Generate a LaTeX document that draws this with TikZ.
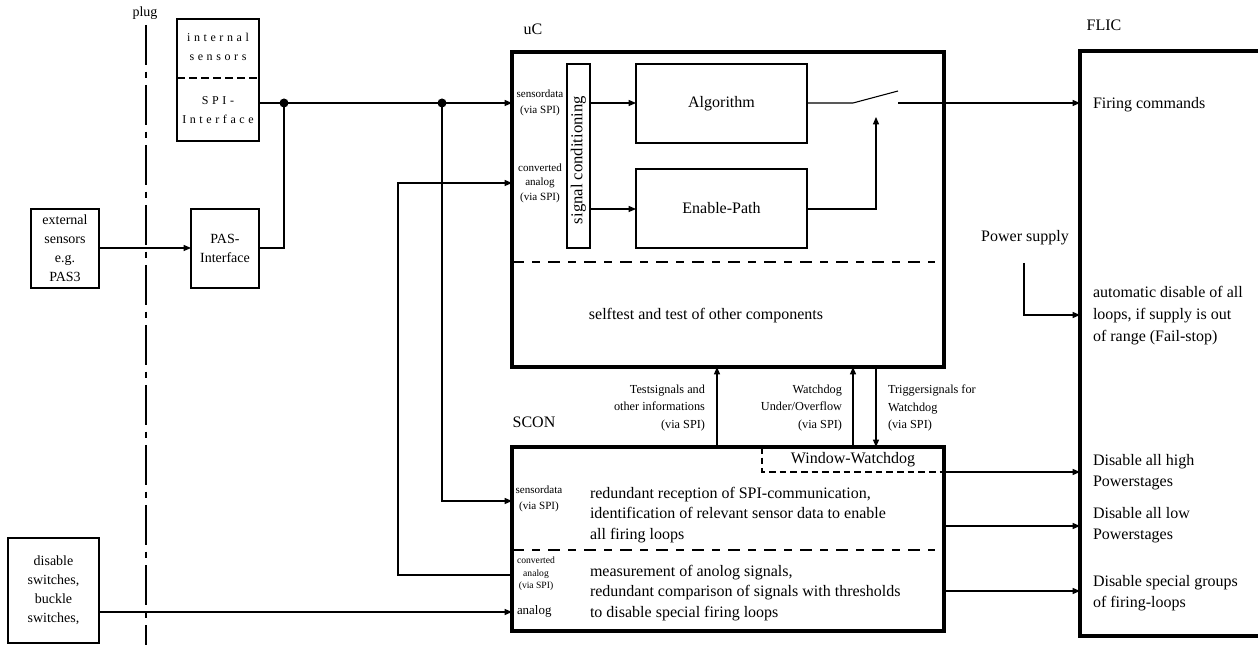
\documentclass[tikz,border=0pt]{standalone}
\usepackage{fontspec}
\setmainfont{Liberation Serif}
\usetikzlibrary{arrows.meta,fit}
\begin{document}
\begin{tikzpicture}[x=0.75pt,y=-0.75pt,
  every node/.style={inner sep=0pt,outer sep=0pt},
  ln/.style={line width=0.8pt},
  arr/.style={line width=0.8pt,-{Triangle[length=5.5pt,width=4.5pt]}},
  box/.style={draw,line width=0.8pt},
  heavy/.style={draw,line width=2.6pt},
  big/.style={font=\fontsize{12}{15.75}\selectfont},
  mid/.style={font=\fontsize{9.2}{13}\selectfont},
  ext/.style={font=\fontsize{10.5}{14.25}\selectfont,align=center},
  small/.style={font=\fontsize{8.3}{12}\selectfont,align=center},
  tiny/.style={font=\fontsize{7.2}{9.5}\selectfont,align=center},
  spaced/.style={font=\fontsize{9}{14.5}\selectfont\addfontfeature{LetterSpace=30},align=center},
  dashln/.style={line width=0.8pt,dash pattern=on 9pt off 6pt on 6pt off 6pt},
  plugln/.style={line width=0.8pt,dash pattern=on 30pt off 5pt on 5pt off 5pt},
]
\useasboundingbox (0,0) rectangle (1258,645);

% ---- plug line
\node[font=\fontsize{10.5}{12}\selectfont] (plug) at (145,13) {plug};
\coordinate (pl1) at (146,25);
\coordinate (pl2) at (146,645);
\draw[plugln] (pl1) -- (pl2);

% ---- left boxes
\node[box,fit={(177,19)(259,141)}] (sens) {};
\coordinate (sdl) at (177,78);
\draw[ln,dash pattern=on 6pt off 3pt] (sdl) -- (sdl -| sens.east);
\node[spaced] (senstxt) at (218,47) {internal\\sensors};
\node[spaced] (spitxt) at (218,110) {SPI-\\Interface};

\node[box,fit={(191,209)(259,288)}] (pas) {};
\node[ext] (pastxt) at (pas.center) {PAS-\\Interface};

\node[box,fit={(31,209)(99,288)}] (extsens) {};
\node[ext] (exttxt) at (extsens.center) {external\\sensors\\e.g.\\PAS3};

\node[box,fit={(8,538)(99,643)}] (sw) {};
\node[ext] (swtxt) at (sw.center) {disable\\switches,\\buckle\\switches,};

% ---- uC
\node[heavy,fit={(512,52)(944,367)}] (uc) {};
\node[big] (uclbl) at (533,29) {uC};
\node[box,fit={(567,64)(590,248)}] (sc) {};
\node[rotate=90,font=\fontsize{12.5}{14}\selectfont] (sctxt) at (578.5,160) {signal conditioning};
\node[box,fit={(636,64)(807,143)}] (alg) {};
\node[big] (algtxt) at (alg.center) {Algorithm};
\node[box,fit={(636,169)(807,248)}] (en) {};
\node[big] (entxt) at (en.center) {Enable-Path};
\node[small] (ucsd) at (540,103) {sensordata\\(via SPI)};
\node[small,font=\fontsize{8.3}{10.8}\selectfont] (ucca) at (540,183) {converted\\analog\\(via SPI)};
\coordinate (udl) at (512,262);
\coordinate (udr) at (935,262);
\draw[dashln] (udl) -- (udr);
\node[big] (self) at (706,316) {selftest and test of other components};

% switch
\coordinate (sw1) at (853,103);
\coordinate (sw2) at (898,91);
\coordinate (sw3) at (898,103);
\coordinate (swa) at (876,117);

% ---- SCON
\node[heavy,fit={(512,447)(944,631)}] (scon) {};
\node[big] (sconlbl) at (534,422) {SCON};
\coordinate (ww1) at (762,472);
\draw[ln,dash pattern=on 5pt off 3pt] (ww1 |- scon.north) -- (ww1) -- (ww1 -| scon.east);
\node[big] (wwtxt) at (853,460) {Window-Watchdog};
\node[small] (scsd) at (539,499) {sensordata\\(via SPI)};
\node[tiny] (scca) at (536,574) {converted\\analog\\(via SPI)};
\node[font=\fontsize{9.7}{11}\selectfont,anchor=west] (scan) at (517,611) {analog};
\node[big,anchor=west,align=left,font=\fontsize{12}{15.2}\selectfont] (sct1) at (590,515) {redundant reception of SPI-communication,\\identification of relevant sensor data to enable\\all firing loops};
\node[big,anchor=west,align=left,font=\fontsize{12}{15.2}\selectfont] (sct2) at (590,593) {measurement of anolog signals,\\redundant comparison of signals with thresholds\\to disable special firing loops};
\coordinate (sdl2) at (512,550);
\coordinate (sdr2) at (935,550);
\draw[dashln] (sdl2) -- (sdr2);

% ---- FLIC
\node[heavy,fit={(1080,51)(1270,636)}] (flic) {};
\node[big] (fliclbl) at (1104,25) {FLIC};
\node[big,anchor=west] (f1) at (1093,105) {Firing commands};
\node[big,anchor=west,align=left,font=\fontsize{12}{16.5}\selectfont] (f2) at (1093,316) {automatic disable of all\\loops, if supply is out\\of range (Fail-stop)};
\node[big,anchor=west,align=left] (f3) at (1093,472) {Disable all high\\Powerstages};
\node[big,anchor=west,align=left] (f4) at (1093,525) {Disable all low\\Powerstages};
\node[big,anchor=west,align=left] (f5) at (1093,593) {Disable special groups\\of firing-loops};
\node[big] (ps) at (1025,238) {Power supply};

% ---- connections left
\coordinate (d1) at (284,103);
\coordinate (d2) at (442,103);
\fill (d1) circle (4.5);
\fill (d2) circle (4.5);
\draw[ln] (sens.east |- d1) -- (d1) -- (d2);
\draw[arr] (d2) -- (uc.west |- d2);
\coordinate (pj) at (284,248);
\draw[ln] (pas.east |- pj) -- (pj) -- (d1);
\draw[arr] (extsens.east |- pj) -- (pas.west |- pj);
\coordinate (sd2) at (442,501);
\draw[arr] (d2) -- (sd2) -- (scon.west |- sd2);
\coordinate (ca1) at (398,575);
\coordinate (ca2) at (398,183);
\draw[arr] (scon.west |- ca1) -- (ca1) -- (ca2) -- (uc.west |- ca2);
\coordinate (an) at (99,612);
\draw[arr] (sw.east |- an) -- (scon.west |- an);

% ---- inside uC
\draw[arr] (sc.east |- sw1) -- (alg.west |- sw1);
\coordinate (ep) at (590,209);
\draw[arr] (sc.east |- ep) -- (en.west |- ep);
\draw[ln] (alg.east |- sw1) -- (sw1) -- (sw2);
\draw[arr] (sw3) -- (flic.west |- sw3);
\draw[arr] (en.east |- ep) -| (swa);

% ---- uC <-> SCON
\coordinate (t1) at (717,400);
\coordinate (t2) at (853,400);
\coordinate (t3) at (876,400);
\draw[arr] (t1 |- scon.north) -- (t1 |- uc.south);
\draw[arr] (t2 |- scon.north) -- (t2 |- uc.south);
\draw[arr] (t3 |- uc.south) -- (t3 |- scon.north);
\node[mid,anchor=east,align=right] (lt1) at (705,408) {Testsignals and\\other informations\\(via SPI)};
\node[mid,anchor=east,align=right] (lt2) at (842,408) {Watchdog\\Under/Overflow\\(via SPI)};
\node[mid,anchor=west,align=left] (lt3) at (888,408) {Triggersignals for\\Watchdog\\(via SPI)};

% ---- SCON -> FLIC
\draw[arr] (ww1 -| scon.east) -- (ww1 -| flic.west);
\coordinate (o2) at (944,526);
\coordinate (o3) at (944,591);
\draw[arr] (o2) -- (o2 -| flic.west);
\draw[arr] (o3) -- (o3 -| flic.west);

% ---- power supply
\coordinate (p1) at (1024,263);
\coordinate (p2) at (1024,315);
\draw[arr] (p1) -- (p2) -- (flic.west |- p2);
\end{tikzpicture}
\end{document}
